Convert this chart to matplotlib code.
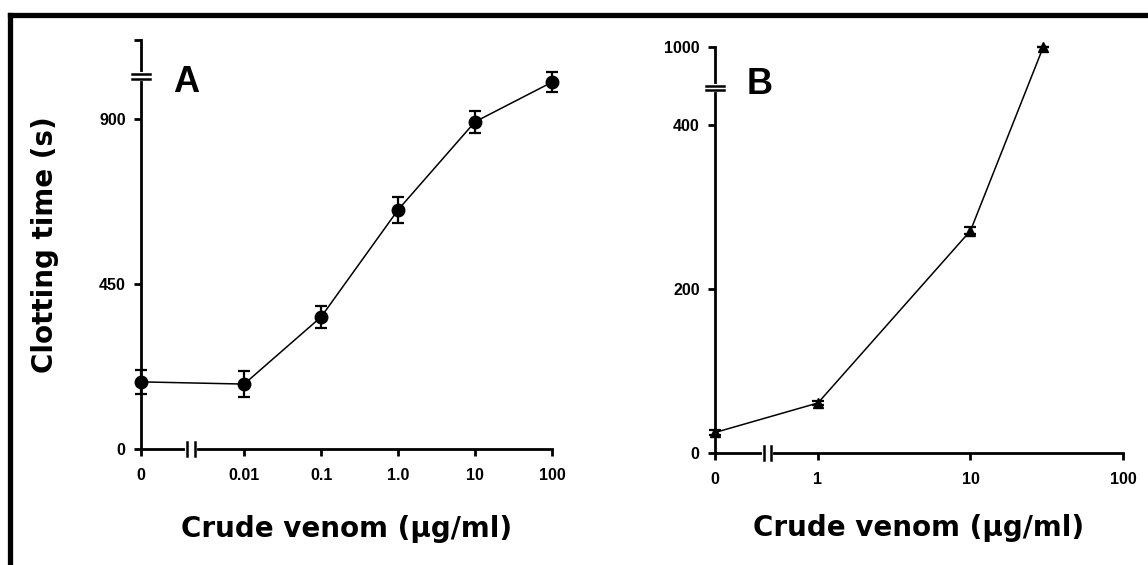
import numpy as np
import matplotlib
matplotlib.use("Agg")
import matplotlib.pyplot as plt
from matplotlib.lines import Line2D

plt.rcParams['font.family'] = ['Liberation Sans', 'DejaVu Sans']
plt.rcParams['font.weight'] = 'bold'

# panel A: clotting time vs crude venom (circles, mean +/- error)
a_conc = [0, 0.01, 0.1, 1.0, 10, 100]
a_time = [183, 177, 360, 652, 892, 1000]
a_err = [33, 35, 30, 35, 30, 27]
a_xticks = [0, 0.01, 0.1, 1.0, 10, 100]
a_xticklabels = ['0', '0.01', '0.1', '1.0', '10', '100']
a_yticks = [0, 450, 900]

# panel B: triangles, broken y axis above 400
b_conc = [0, 1, 10, 30]
b_time = [25, 61, 271, 1000]
b_err = [3, 3, 4, 0]
b_xticks = [0, 1, 10, 100]
b_xticklabels = ['0', '1', '10', '100']
b_yticks = [0, 200, 400, 1000]

TICK_FONT = ['Liberation Sans Narrow', 'Liberation Sans', 'DejaVu Sans']
LABEL_FONT = ['DejaVu Sans']


def a_xpos(c):
    # log scale, zero put 1.34 decades left of 0.01
    return np.where(np.asarray(c, float) > 0, np.log10(np.maximum(c, 1e-9)), -3.34)


def b_xpos(c):
    return np.where(np.asarray(c, float) > 0, np.log10(np.maximum(c, 1e-9)), -0.675)


B_BREAK = 445.0


def b_ypos(v):
    v = np.asarray(v, float)
    return np.where(v <= B_BREAK, v, B_BREAK + (v - B_BREAK) * 50.0 / 555.0)


def style_axes(ax):
    for s in ['top', 'right']:
        ax.spines[s].set_visible(False)
    for s in ['left', 'bottom']:
        ax.spines[s].set_linewidth(2.0)
    ax.tick_params(width=2.0, length=5, direction='out', pad=6)
    for lab in ax.get_xticklabels() + ax.get_yticklabels():
        lab.set_family(TICK_FONT)
        lab.set_fontsize(11.5)
        lab.set_fontweight('bold')


def xbreak(ax, xb):
    # double bar across the x axis, gap of a few pixels
    tr = ax.get_xaxis_transform()
    x0, x1 = ax.get_xlim()
    w = 0.009 * (x1 - x0)
    ax.plot([xb - w, xb + w], [0, 0], color='white', lw=3, transform=tr, clip_on=False, zorder=5)
    for dx in (-w, w):
        ax.plot([xb + dx, xb + dx], [-0.018, 0.018], color='black', lw=1.8,
                transform=tr, clip_on=False, zorder=6)


def ybreak(ax, yb, dy):
    tr = ax.get_yaxis_transform()
    ax.plot([0, 0], [yb - dy, yb + dy], color='white', lw=3, transform=tr, clip_on=False, zorder=5)
    for d in (-dy, dy):
        ax.plot([-0.022, 0.022], [yb + d, yb + d], color='black', lw=1.8,
                transform=tr, clip_on=False, zorder=6)


fig = plt.figure(figsize=(11.48, 5.65), dpi=100)

# ---- panel A ----
axA = fig.add_axes([141 / 1148, 116 / 565, 411 / 1148, 409 / 565])
axA.errorbar(a_xpos(a_conc), a_time, yerr=a_err, fmt='o-', color='black', ms=9,
             lw=1.1, elinewidth=1.6, capsize=4.5, capthick=1.6, clip_on=False, zorder=4)
axA.set_xlim(-3.34, 2)
axA.set_ylim(0, 1115)
axA.set_xticks(a_xpos(a_xticks))
axA.set_xticklabels(a_xticklabels)
axA.set_yticks(a_yticks + [1115])
axA.set_yticklabels([str(t) for t in a_yticks] + [''])
style_axes(axA)
axA.tick_params(axis='x', pad=9)
axA.set_xlabel('Crude venom (\u00b5g/ml)', fontsize=20, fontweight='bold',
               family=LABEL_FONT, labelpad=23)
axA.set_ylabel('Clotting time (s)', fontsize=20, fontweight='bold',
               family=LABEL_FONT, labelpad=29)
xbreak(axA, -2.69)
ybreak(axA, 1015, 7)

# ---- panel B ----
axB = fig.add_axes([715 / 1148, 112 / 565, 408 / 1148, 406 / 565])
axB.errorbar(b_xpos(b_conc), b_ypos(b_time), yerr=b_err, fmt='^-', color='black', ms=6.5,
             lw=1.1, elinewidth=1.6, capsize=4, capthick=1.6, clip_on=False, zorder=4)
axB.set_xlim(-0.675, 2)
axB.set_ylim(0, 495)
axB.set_xticks(b_xpos(b_xticks))
axB.set_xticklabels(b_xticklabels)
axB.set_yticks(b_ypos(b_yticks))
axB.set_yticklabels([str(t) for t in b_yticks])
style_axes(axB)
axB.tick_params(axis='x', pad=9)
axB.set_xlabel('Crude venom (\u00b5g/ml)', fontsize=20, fontweight='bold',
               family=LABEL_FONT, labelpad=19)
xbreak(axB, -0.33)
ybreak(axB, B_BREAK, 3)

fig.text(186 / 1148, 1 - 83 / 565, 'A', fontsize=26, fontweight='bold', ha='center', va='center')
fig.text(760 / 1148, 1 - 84 / 565, 'B', fontsize=26, fontweight='bold', ha='center', va='center')

# frame on top and left edge
fig.add_artist(Line2D([10 / 1148, 1], [1 - 14.5 / 565, 1 - 14.5 / 565], color='black', lw=3.8,
                      transform=fig.transFigure))
fig.add_artist(Line2D([10 / 1148, 10 / 1148], [0, 1 - 14.5 / 565], color='black', lw=3.8,
                      transform=fig.transFigure))

fig.savefig('out.png', dpi=100)
